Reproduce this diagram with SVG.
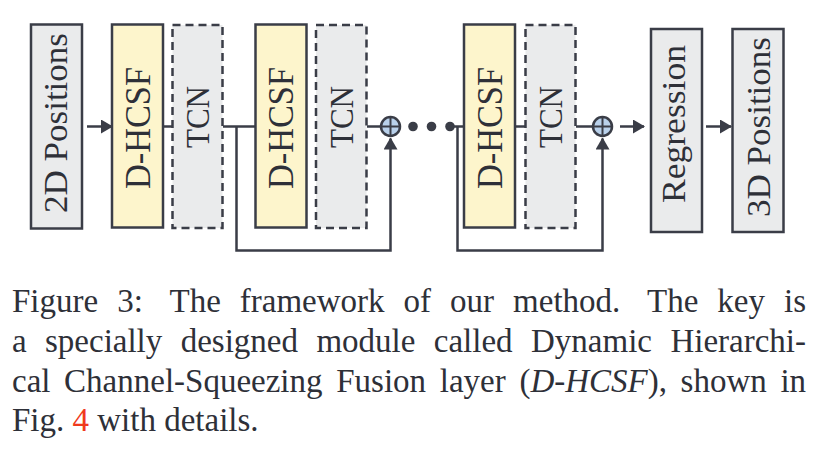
<svg xmlns="http://www.w3.org/2000/svg" width="824" height="456" viewBox="0 0 824 456">
<style>
.box{stroke:#3a3d47;stroke-width:2.5}
.gray{fill:#eaebec}
.yellow{fill:#fdf5cc}
.dash{stroke-dasharray:8 5}
.lbl{font-family:"Liberation Serif","Times New Roman",serif;font-size:34px;fill:#2e3038;text-anchor:middle}
.wire{fill:none;stroke:#3a3d47;stroke-width:2.5}
.cap{font-family:"Liberation Serif","Times New Roman",serif;font-size:33px;fill:#2e3038}
.dot{fill:#3a3d47}
.plus{fill:#b9d1eb;stroke:#3a3d47;stroke-width:2.5}
</style>
<defs>
<marker id="ah" markerUnits="userSpaceOnUse" markerWidth="12" markerHeight="14" refX="11" refY="7" orient="auto">
<path d="M0,0 L12,7 L0,14 Z" fill="#3a3d47"/>
</marker>
</defs>
<rect width="824" height="456" fill="#ffffff"/>

<g id="connectors">
<line class="wire" x1="87" y1="126.5" x2="112" y2="126.5" marker-end="url(#ah)"/>
<line class="wire" x1="163" y1="126.5" x2="172" y2="126.5"/>
<line class="wire" x1="223" y1="126.5" x2="255" y2="126.5"/>
<line class="wire" x1="367" y1="126.5" x2="381" y2="126.5"/>
<line class="wire" x1="450" y1="126.5" x2="464" y2="126.5"/>
<line class="wire" x1="515" y1="126.5" x2="525" y2="126.5"/>
<line class="wire" x1="576" y1="126.5" x2="593" y2="126.5"/>
<path class="wire" d="M236.5,126.5 V250.5 H390.5 V138.5" marker-end="url(#ah)"/>
<path class="wire" d="M457.5,126.5 V250.5 H602.5 V138.5" marker-end="url(#ah)"/>
<line class="wire" x1="620" y1="126.5" x2="644" y2="126.5" marker-end="url(#ah)"/>
<line class="wire" x1="706" y1="126.5" x2="731" y2="126.5" marker-end="url(#ah)"/>
<circle class="dot" cx="413" cy="126.5" r="4.8"/>
<circle class="dot" cx="431.5" cy="126.5" r="4.8"/>
<circle class="dot" cx="450" cy="126.5" r="4.8"/>
</g>

<g id="input2d">
<rect class="box gray" x="31" y="24.5" width="51" height="204"/>
<text class="lbl" transform="translate(67,123) rotate(-90)" textLength="180" lengthAdjust="spacingAndGlyphs">2D Positions</text>
</g>

<g id="dhcsf1">
<rect class="box yellow" x="112" y="24.5" width="51" height="203"/>
<text class="lbl" transform="translate(149.5,128) rotate(-90) scale(1,1.08)" textLength="122" lengthAdjust="spacingAndGlyphs">D-HCSF</text>
</g>
<g id="tcn1">
<rect class="box gray dash" x="172.5" y="25" width="50" height="203"/>
<text class="lbl" transform="translate(209,117) rotate(-90)" textLength="62" lengthAdjust="spacingAndGlyphs">TCN</text>
</g>

<g id="dhcsf2">
<rect class="box yellow" x="255.5" y="24.5" width="51" height="203"/>
<text class="lbl" transform="translate(292.5,128) rotate(-90) scale(1,1.08)" textLength="122" lengthAdjust="spacingAndGlyphs">D-HCSF</text>
</g>
<g id="tcn2">
<rect class="box gray dash" x="316" y="25" width="50.5" height="203"/>
<text class="lbl" transform="translate(353,117) rotate(-90)" textLength="62" lengthAdjust="spacingAndGlyphs">TCN</text>
</g>

<g id="add1">
<circle class="plus" cx="390.5" cy="126.5" r="9.5"/>
<path d="M381,126.5 H400 M390.5,117 V136" stroke="#3a3d47" stroke-width="2"/>
</g>

<g id="dhcsf3">
<rect class="box yellow" x="464" y="24.5" width="51" height="203"/>
<text class="lbl" transform="translate(501.5,128) rotate(-90) scale(1,1.08)" textLength="122" lengthAdjust="spacingAndGlyphs">D-HCSF</text>
</g>
<g id="tcn3">
<rect class="box gray dash" x="525.5" y="25" width="50" height="203"/>
<text class="lbl" transform="translate(562,117) rotate(-90)" textLength="62" lengthAdjust="spacingAndGlyphs">TCN</text>
</g>

<g id="add2">
<circle class="plus" cx="602.5" cy="126.5" r="9.5"/>
<path d="M593,126.5 H612 M602.5,117 V136" stroke="#3a3d47" stroke-width="2"/>
</g>

<g id="regression">
<rect class="box gray" x="651" y="29" width="51" height="203"/>
<text class="lbl" transform="translate(685,124) rotate(-90)" textLength="158" lengthAdjust="spacingAndGlyphs">Regression</text>
</g>

<g id="output3d">
<rect class="box gray" x="732.5" y="29" width="51" height="203"/>
<text class="lbl" transform="translate(770,127) rotate(-90)" textLength="180" lengthAdjust="spacingAndGlyphs">3D Positions</text>
</g>

<g id="caption">
<text class="cap" y="312"><tspan x="12">Figure</tspan><tspan x="117.2">3:</tspan><tspan x="169.5">The</tspan><tspan x="239.8">framework</tspan><tspan x="403.6">of</tspan><tspan x="450.1">our</tspan><tspan x="513.1">method.</tspan><tspan x="647">The</tspan><tspan x="717.3">key</tspan><tspan x="784">is</tspan></text>
<text class="cap" y="352"><tspan x="12">a</tspan><tspan x="45">specially</tspan><tspan x="180.7">designed</tspan><tspan x="316.4">module</tspan><tspan x="433.8">called</tspan><tspan x="531">Dynamic</tspan><tspan x="670.4">Hierarchi-</tspan></text>
<text class="cap" y="391.5"><tspan x="12">cal</tspan><tspan x="64.1">Channel-Squeezing</tspan><tspan x="336.2">Fusion</tspan><tspan x="439.8">layer</tspan><tspan x="519.4">(<tspan font-style="italic">D-HCSF</tspan>),</tspan><tspan x="680.6">shown</tspan><tspan x="780.4">in</tspan></text>
<text class="cap" y="431" x="12">Fig. <tspan fill="#f03a1e">4</tspan> with details.</text>
</g>
</svg>
